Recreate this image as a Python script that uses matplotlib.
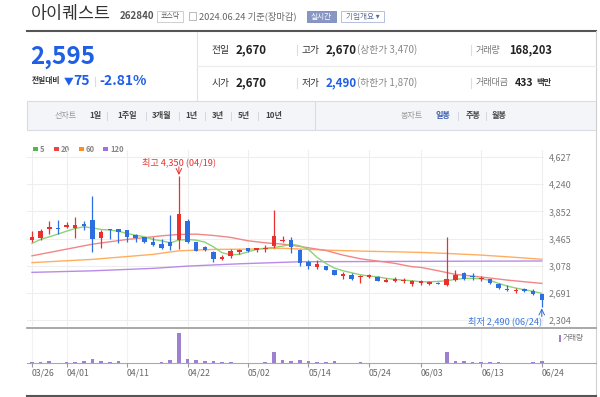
import numpy as np
import matplotlib.pyplot as plt
from matplotlib.patches import Rectangle

plt.rcParams['font.family'] = ['Noto Sans CJK KR', 'DejaVu Sans']

W, H = 600, 397

# trading days shown on the chart
dates = ['03/26', '03/27', '03/28', '03/29', '04/01', '04/02', '04/03', '04/04', '04/05', '04/08',
         '04/09', '04/11', '04/12', '04/15', '04/16', '04/17', '04/18', '04/19', '04/22', '04/23',
         '04/24', '04/25', '04/26', '04/29', '04/30', '05/02', '05/03', '05/07', '05/08', '05/09',
         '05/10', '05/13', '05/14', '05/16', '05/17', '05/20', '05/21', '05/22', '05/23', '05/24',
         '05/27', '05/28', '05/29', '05/30', '05/31', '06/03', '06/04', '06/05', '06/07', '06/10',
         '06/11', '06/12', '06/13', '06/14', '06/17', '06/18', '06/19', '06/20', '06/21', '06/24']

opens = [3450, 3475, 3600, 3615, 3635, 3620, 3670, 3725, 3470, 3590,
         3605, 3585, 3510, 3480, 3415, 3385, 3410, 3440, 3715, 3415,
         3350, 3270, 3170, 3215, 3275, 3330, 3300, 3310, 3360, 3425,
         3450, 3300, 3130, 3065, 3070, 3010, 2935, 2950, 2915, 2915,
         2910, 2845, 2860, 2860, 2810, 2825, 2810, 2835, 2805, 2875,
         2975, 2930, 2885, 2885, 2820, 2745, 2715, 2750, 2720, 2670]
highs = [3570, 3600, 3715, 3735, 3700, 3765, 3715, 4070, 3590, 3595,
         3605, 3585, 3535, 3490, 3490, 3465, 3800, 4350, 3750, 3420,
         3355, 3290, 3235, 3320, 3320, 3330, 3335, 3380, 3870, 3505,
         3490, 3310, 3155, 3155, 3070, 3015, 2985, 2980, 2940, 2965,
         2925, 2900, 2920, 2900, 2880, 2875, 2865, 2840, 3490, 3015,
         2990, 2975, 2930, 2895, 2830, 2800, 2765, 2765, 2740, 2670]
lows = [3415, 3440, 3530, 3530, 3610, 3475, 3585, 3275, 3325, 3460,
        3400, 3410, 3410, 3395, 3365, 3310, 3300, 3310, 3405, 3285,
        3290, 3135, 3160, 3190, 3240, 3275, 3280, 3275, 3335, 3415,
        3255, 3075, 3025, 3035, 3015, 2940, 2885, 2875, 2835, 2905,
        2860, 2845, 2845, 2835, 2795, 2800, 2800, 2810, 2795, 2860,
        2875, 2875, 2860, 2815, 2750, 2715, 2695, 2705, 2665, 2490]
closes = [3480, 3570, 3630, 3600, 3665, 3665, 3645, 3460, 3555, 3580,
          3565, 3490, 3470, 3410, 3380, 3325, 3355, 3820, 3415, 3290,
          3300, 3170, 3205, 3290, 3295, 3290, 3325, 3325, 3495, 3445,
          3345, 3110, 3070, 3095, 3020, 2945, 2955, 2885, 2930, 2945,
          2860, 2875, 2890, 2875, 2855, 2860, 2850, 2815, 2895, 2945,
          2885, 2910, 2900, 2825, 2765, 2725, 2735, 2720, 2670, 2595]
volumes = [22000, 20000, 170000, 18000, 21000, 25000, 170000, 400000, 170000, 20000,
           170000, 18000, 16000, 17000, 15000, 24000, 270000, 2970000, 400000, 230000,
           170000, 170000, 22000, 20000, 18000, 19000, 17000, 24000, 1020000, 270000,
           170000, 270000, 170000, 24000, 20000, 170000, 18000, 16000, 20000, 17000,
           15000, 16000, 18000, 17000, 16000, 19000, 18000, 16000, 1020000, 170000,
           170000, 24000, 20000, 22000, 20000, 19000, 17000, 18000, 20000, 168203]

ma5 = [3396, 3452, 3490, 3528, 3570, 3609, 3632, 3617, 3594, 3585,
       3570, 3537, 3513, 3490, 3452, 3433, 3404, 3442, 3452, 3442,
       3414, 3347, 3262, 3233, 3239, 3276, 3310, 3328, 3338, 3357,
       3385, 3361, 3310, 3196, 3111, 3044, 3006, 2977, 2949, 2930,
       2920, 2897, 2883, 2873, 2863, 2849, 2849, 2854, 2863, 2883,
       2897, 2897, 2892, 2869, 2826, 2788, 2759, 2735, 2712, 2684]
ma20_idx = [0, 3, 7, 11, 14, 15, 17, 19, 21, 23, 25, 27, 29, 30, 32, 34, 36, 38, 40, 42,
            44, 45, 47, 49, 51, 53, 55, 57, 59]
ma20 = [3219, 3290, 3385, 3452, 3490, 3504, 3523, 3528, 3509, 3481, 3433, 3404, 3385, 3370,
        3333, 3295, 3229, 3177, 3144, 3111, 3063, 3054, 3006, 2954, 2930, 2902, 2873, 2849, 2826]
ma60_idx = [0, 7, 14, 17, 21, 25, 29, 30, 34, 38, 42, 45, 48, 52, 55, 59]
ma60 = [3122, 3168, 3239, 3290, 3310, 3314, 3326, 3321, 3300, 3286, 3276, 3267, 3253, 3229, 3205, 3170]
ma120_idx = [0, 7, 14, 18, 24, 31, 40, 50, 59]
ma120 = [2983, 3005, 3040, 3072, 3105, 3134, 3138, 3142, 3145]

price_ticks = [2304, 2691, 3078, 3465, 3852, 4240, 4627]
date_ticks = ['03/26', '04/01', '04/11', '04/22', '05/02', '05/14', '05/24', '06/03', '06/13', '06/24']

UP = '#e8312f'
DOWN = '#2d6fe0'
BLUE_TXT = '#1f5fe5'

fig = plt.figure(figsize=(W / 100, H / 100), dpi=100)


def rect(x0, y0, x1, y1):
    # pixel box (y down) -> figure fraction
    return [x0 / W, 1 - y1 / H, (x1 - x0) / W, (y1 - y0) / H]


bg = fig.add_axes([0, 0, 1, 1])
bg.set_xlim(0, W)
bg.set_ylim(H, 0)
bg.axis('off')

# ---- header ----
bg.text(31, 14.5, '아이퀘스트', fontsize=12.5, color='#333', va='center')
bg.text(120, 16, '262840', fontsize=7, weight='bold', color='#555', va='center')
bg.add_patch(Rectangle((157, 10.5), 26, 11, fc='white', ec='#c8c8c8', lw=0.6))
bg.text(170, 16, '코스닥', fontsize=5, color='#555', ha='center', va='center')
bg.add_patch(Rectangle((189, 12), 7, 8, fc='white', ec='#b0b0b0', lw=0.6))
bg.text(199, 16, '2024.06.24 기준(장마감)', fontsize=6.7, color='#666', va='center')
bg.add_patch(Rectangle((307, 11), 29, 11, fc='#8796c2', ec='#7a8ab8', lw=0.6))
bg.text(321.5, 16.5, '실시간', fontsize=5.5, color='white', ha='center', va='center')
bg.add_patch(Rectangle((341, 11), 43, 11, fc='white', ec='#a9b4d6', lw=0.6))
bg.text(362.5, 16.5, '기업개요 ▾', fontsize=5.5, color='#5a6a99', ha='center', va='center')

bg.plot([27, 596], [31, 31], color='#555', lw=1.5)
bg.plot([596, 596], [31, 397], color='#d0d0d0', lw=0.8)
bg.plot([197, 197], [32, 100], color='#e2e2e2', lw=0.8)
bg.plot([197, 596], [66, 66], color='#ebebeb', lw=0.8)

bg.text(30, 57, '2,595', fontsize=17.5, weight='bold', color=BLUE_TXT, va='center')
bg.text(32, 81, '전일대비', fontsize=5.6, weight='bold', color='#333', va='center')
bg.text(64, 81, '▼', fontsize=7, color=BLUE_TXT, va='center')
bg.text(73, 81, '75', fontsize=10, weight='bold', color=BLUE_TXT, va='center')
bg.plot([95, 95], [77, 86], color='#dddddd', lw=0.8)
bg.text(99, 81, '-2.81%', fontsize=10, weight='bold', color=BLUE_TXT, va='center')

for yy in (50, 83):
    bg.plot([297, 297], [yy - 5, yy + 5], color='#dddddd', lw=0.8)
    bg.plot([471, 471], [yy - 5, yy + 5], color='#dddddd', lw=0.8)

bg.text(212, 50, '전일', fontsize=7, color='#333', va='center')
bg.text(236, 50, '2,670', fontsize=8.3, weight='bold', color='#222', va='center')
bg.text(302, 50, '고가', fontsize=7, color='#333', va='center')
bg.text(326, 50, '2,670', fontsize=8.3, weight='bold', color='#222', va='center')
bg.text(357, 50, '(상한가 3,470)', fontsize=7, color='#888', va='center')
bg.text(476, 50, '거래량', fontsize=6.5, color='#777', va='center')
bg.text(509, 50, '168,203', fontsize=8, weight='bold', color='#222', va='center')

bg.text(212, 83, '시가', fontsize=7, color='#333', va='center')
bg.text(236, 83, '2,670', fontsize=8.3, weight='bold', color='#222', va='center')
bg.text(302, 83, '저가', fontsize=7, color='#333', va='center')
bg.text(326, 83, '2,490', fontsize=8.3, weight='bold', color=BLUE_TXT, va='center')
bg.text(357, 83, '(하한가 1,870)', fontsize=7, color='#888', va='center')
bg.text(476, 83, '거래대금', fontsize=6.5, color='#777', va='center')
bg.text(515, 83, '433', fontsize=7.6, weight='bold', color='#222', va='center')
bg.text(536.5, 83, '백만', fontsize=6, weight='bold', color='#333', va='center')

# ---- toolbar ----
bg.add_patch(Rectangle((27, 101), 569, 29, fc='#f3f5f8', ec='#d9dde3', lw=0.8))
bg.plot([315, 315], [101, 130], color='#d9dde3', lw=0.8)
ty = 115.5
bg.text(66, ty, '선차트', fontsize=5.8, color='#999', ha='center', va='center')
for label, cx in zip(['1일', '1주일', '3개월', '1년', '3년', '5년', '10년'],
                     [95, 127, 162, 191, 218, 244, 274]):
    bg.text(cx, ty, label, fontsize=5.8, weight='bold', color='#444', ha='center', va='center')
for sx in [107, 146, 179, 205, 231, 258]:
    bg.plot([sx, sx], [ty - 4, ty + 4], color='#d5d8dd', lw=0.7)
bg.text(412, ty, '봉차트', fontsize=5.8, color='#999', ha='center', va='center')
bg.text(443, ty, '일봉', fontsize=5.8, weight='bold', color='#3b5bb0', ha='center', va='center')
bg.text(473, ty, '주봉', fontsize=5.8, weight='bold', color='#444', ha='center', va='center')
bg.text(499, ty, '월봉', fontsize=5.8, weight='bold', color='#444', ha='center', va='center')
for sx in [458, 486]:
    bg.plot([sx, sx], [ty - 4, ty + 4], color='#d5d8dd', lw=0.7)

# ---- MA legend ----
for lx, col, lab in [(33, '#55b54a', '5'), (54, '#ec4444', '20'), (79, '#ff8c22', '60'), (103, '#a070e0', '120')]:
    bg.add_patch(Rectangle((lx, 146.7), 4.7, 4.7, fc=col, ec='none'))
    bg.text(lx + 7, 149, lab, fontsize=5.5, weight='bold', color='#888', va='center')

# panel lines
bg.plot([27, 596], [327.5, 327.5], color='#9a9a9a', lw=1.2)
bg.plot([27, 596], [362.7, 362.7], color='#aaaaaa', lw=0.8)
bg.plot([27, 596], [396, 396], color='#555', lw=1.5)

# volume legend
bg.add_patch(Rectangle((559, 334.5), 2, 7, fc='#9d80d0', ec='none'))
bg.text(563, 338, '거래량', fontsize=5.5, color='#777', va='center')

# ---- price chart ----
x = np.arange(len(dates))
o, hi, lo, c = map(np.array, (opens, highs, lows, closes))
XL = (-0.579, 59.26)

ax = fig.add_axes(rect(27, 150, 544, 326))
ax.patch.set_visible(False)
ax.set_xlim(*XL)
ax.set_ylim(2218.5, 4726.8)

tick_pos = [dates.index(d) for d in date_ticks]
ax.set_xticks(tick_pos)
ax.set_xticklabels([])
ax.tick_params(axis='x', length=0)
ax.yaxis.tick_right()
ax.set_yticks(price_ticks)
ax.set_yticklabels([f'{t:,}' for t in price_ticks])
ax.tick_params(axis='y', length=0, pad=3.5, labelsize=6.5, labelcolor='#777')
ax.grid(color='#eeeeee', lw=0.8)
ax.set_axisbelow(True)
for s in ax.spines.values():
    s.set_visible(False)

ax.plot(ma120_idx, ma120, color='#b98be8', lw=1.0, zorder=2)
ax.plot(ma60_idx, ma60, color='#ffae5e', lw=1.0, zorder=2)
ax.plot(ma20_idx, ma20, color='#f28686', lw=1.0, zorder=2)
ax.plot(x, ma5, color='#8fd178', lw=1.0, zorder=2)

cols = np.where(c >= o, UP, DOWN)
ax.vlines(x, lo, hi, colors=cols, lw=0.9, zorder=3)
body = np.maximum(np.abs(c - o), 16)
ax.bar(x, body, bottom=np.minimum(o, c), width=0.52, color=cols, lw=0, zorder=4)

imax = int(np.argmax(hi))
imin = int(np.argmin(lo))
ax.annotate('', xy=(imax, hi[imax]), xytext=(0, 7), textcoords='offset points',
            arrowprops=dict(arrowstyle='->', color=UP, lw=0.7, shrinkA=0, shrinkB=1))
ax.annotate(f'최고 {hi[imax]:,} ({dates[imax]})', xy=(imax, hi[imax]), xytext=(0, 10.5),
            textcoords='offset points', ha='center', va='center', fontsize=6.6, color=UP)
ax.annotate('', xy=(imin, lo[imin]), xytext=(0, -7), textcoords='offset points',
            arrowprops=dict(arrowstyle='->', color=DOWN, lw=0.7, shrinkA=0, shrinkB=1))
ax.annotate(f'최저 {lo[imin]:,} ({dates[imin]})', xy=(imin + 0.1, lo[imin]), xytext=(0, -10.3),
            textcoords='offset points', ha='right', va='center', fontsize=6.6, color='#3a78e0')

# ---- volume chart ----
av = fig.add_axes(rect(27, 329, 544, 362.7))
av.patch.set_visible(False)
av.set_xlim(*XL)
av.set_ylim(0, 3.33e6)
av.bar(x, volumes, width=0.42, color='#9d80d0', lw=0)
av.set_xticks(tick_pos)
av.set_xticklabels(date_ticks, ha='left')
av.tick_params(axis='x', length=3, color='#999', pad=1.2, labelsize=6.3, labelcolor='#666')
av.set_yticks([])
av.grid(axis='x', color='#f2f2f2', lw=0.8)
av.set_axisbelow(True)
for s in av.spines.values():
    s.set_visible(False)

fig.savefig('out.png', dpi=100)
